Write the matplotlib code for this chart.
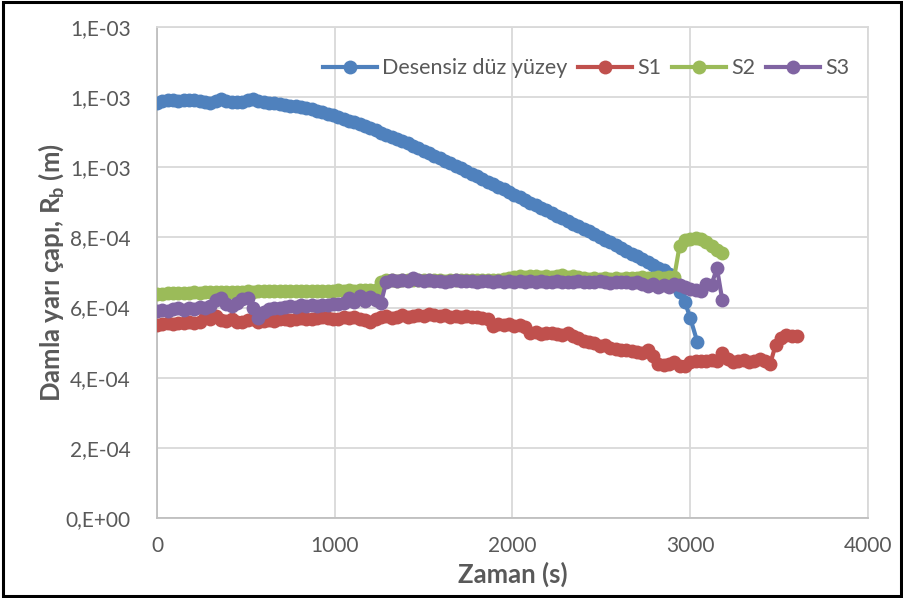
import numpy as np
import matplotlib
matplotlib.use("Agg")
import matplotlib.pyplot as plt
from matplotlib.patches import Rectangle
from matplotlib.ticker import FuncFormatter

plt.rcParams['font.family'] = ['Lato', 'DejaVu Sans']
plt.rcParams['mathtext.fontset'] = 'custom'
plt.rcParams['mathtext.bf'] = 'Lato:bold'
plt.rcParams['mathtext.rm'] = 'Lato:bold'
plt.rcParams['mathtext.default'] = 'bf'

# radius values in mm, sampled every 30 s
t_blue = np.append(np.arange(0, 3001, 30), 3040)
blue_mm = [
    1.183, 1.188, 1.193, 1.192, 1.190, 1.191, 1.192, 1.193, 1.190, 1.186,
    1.184, 1.188, 1.194, 1.190, 1.186, 1.185, 1.187, 1.193, 1.195, 1.190,
    1.186, 1.184, 1.182, 1.180, 1.178, 1.176, 1.174, 1.171, 1.168, 1.165,
    1.161, 1.157, 1.153, 1.148, 1.143, 1.138, 1.133, 1.128, 1.122, 1.117,
    1.111, 1.105, 1.099, 1.093, 1.087, 1.081, 1.074, 1.068, 1.061, 1.054,
    1.047, 1.040, 1.033, 1.026, 1.019, 1.011, 1.004, 0.997, 0.989, 0.982,
    0.974, 0.967, 0.959, 0.952, 0.944, 0.937, 0.929, 0.922, 0.914, 0.907,
    0.899, 0.892, 0.884, 0.877, 0.869, 0.862, 0.854, 0.847, 0.839, 0.832,
    0.824, 0.817, 0.809, 0.802, 0.794, 0.786, 0.778, 0.770, 0.762, 0.754,
    0.746, 0.738, 0.730, 0.722, 0.714, 0.706, 0.697, 0.680, 0.644, 0.616,
    0.570, 0.502,
]

t_s1 = np.arange(0, 3601, 30)
s1_mm = [
    0.550, 0.552, 0.555, 0.553, 0.556, 0.555, 0.558, 0.556, 0.560, 0.572,
    0.566, 0.575, 0.565, 0.562, 0.566, 0.558, 0.560, 0.564, 0.566, 0.560,
    0.562, 0.565, 0.563, 0.566, 0.568, 0.565, 0.567, 0.570, 0.568, 0.566,
    0.570, 0.572, 0.569, 0.566, 0.568, 0.572, 0.570, 0.573, 0.568, 0.565,
    0.560, 0.568, 0.572, 0.575, 0.570, 0.574, 0.578, 0.572, 0.575, 0.580,
    0.576, 0.582, 0.578, 0.575, 0.578, 0.574, 0.577, 0.573, 0.576, 0.572,
    0.574, 0.570, 0.566, 0.548, 0.552, 0.550, 0.553, 0.548, 0.550, 0.545,
    0.528, 0.530, 0.526, 0.528, 0.527, 0.525, 0.522, 0.528, 0.520, 0.512,
    0.505, 0.502, 0.498, 0.490, 0.492, 0.486, 0.482, 0.479, 0.478, 0.475,
    0.473, 0.470, 0.478, 0.462, 0.440, 0.436, 0.440, 0.446, 0.432, 0.434,
    0.444, 0.448, 0.449, 0.447, 0.450, 0.448, 0.470, 0.452, 0.446, 0.448,
    0.450, 0.445, 0.448, 0.452, 0.447, 0.440, 0.493, 0.514, 0.522, 0.520,
    0.518,
]

t_s2 = np.arange(0, 3181, 30)
s2_mm = [
    0.639, 0.640, 0.641, 0.641, 0.642, 0.641, 0.642, 0.643, 0.642, 0.643,
    0.644, 0.643, 0.644, 0.645, 0.644, 0.645, 0.645, 0.646, 0.645, 0.646,
    0.646, 0.647, 0.646, 0.647, 0.646, 0.647, 0.648, 0.647, 0.648, 0.647,
    0.648, 0.648, 0.647, 0.648, 0.649, 0.648, 0.649, 0.648, 0.649, 0.650,
    0.649, 0.650, 0.672, 0.678, 0.679, 0.677, 0.678, 0.680, 0.679, 0.678,
    0.679, 0.680, 0.678, 0.679, 0.677, 0.678, 0.679, 0.678, 0.680, 0.679,
    0.678, 0.679, 0.680, 0.678, 0.679, 0.681, 0.685, 0.688, 0.690, 0.687,
    0.689, 0.691, 0.688, 0.690, 0.686, 0.689, 0.692, 0.688, 0.690, 0.687,
    0.684, 0.682, 0.683, 0.681, 0.683, 0.682, 0.684, 0.682, 0.683, 0.685,
    0.684, 0.686, 0.683, 0.685, 0.687, 0.684, 0.686, 0.688, 0.776, 0.792,
    0.796, 0.797, 0.795, 0.786, 0.775, 0.763, 0.756,
]

t_s3 = np.arange(0, 3181, 30)
s3_mm = [
    0.590, 0.592, 0.589, 0.595, 0.598, 0.594, 0.600, 0.597, 0.602, 0.598,
    0.605, 0.622, 0.628, 0.610, 0.604, 0.612, 0.625, 0.628, 0.600, 0.570,
    0.588, 0.595, 0.600, 0.598, 0.602, 0.605, 0.603, 0.606, 0.604, 0.607,
    0.605, 0.608, 0.606, 0.609, 0.610, 0.612, 0.628, 0.615, 0.632, 0.620,
    0.630, 0.622, 0.613, 0.674, 0.680, 0.676, 0.678, 0.675, 0.684, 0.678,
    0.676, 0.678, 0.675, 0.677, 0.674, 0.676, 0.678, 0.675, 0.677, 0.676,
    0.674, 0.676, 0.675, 0.673, 0.675, 0.674, 0.676, 0.673, 0.675, 0.674,
    0.676, 0.673, 0.675, 0.674, 0.672, 0.675, 0.673, 0.674, 0.672, 0.675,
    0.673, 0.674, 0.672, 0.675, 0.673, 0.671, 0.674, 0.672, 0.673, 0.670,
    0.672, 0.668, 0.662, 0.668, 0.660, 0.665, 0.660, 0.668, 0.665, 0.658,
    0.654, 0.651, 0.648, 0.668, 0.665, 0.713, 0.622,
]

series = [
    ("Desensiz düz yüzey", t_blue, blue_mm, "#4F81BD"),
    ("S1", t_s1, s1_mm, "#C0504D"),
    ("S2", t_s2, s2_mm, "#9BBB59"),
    ("S3", t_s3, s3_mm, "#8064A2"),
]

fig = plt.figure(figsize=(9.04, 5.98), dpi=100)
ax = fig.add_axes([157 / 904, 80 / 598, 711 / 904, 491 / 598])

for name, t, r_mm, col in series:
    ax.plot(t, np.array(r_mm) * 1e-3, '-o', color=col, lw=3.0, ms=10,
            mec=col, mew=0, label=name, zorder=3)

ax.set_xlim(0, 4000)
ax.set_ylim(0, 1.4e-3)
ax.set_xticks(np.arange(0, 4001, 1000))
ax.set_yticks(np.arange(0, 1.41e-3, 2e-4))
ax.yaxis.set_major_formatter(FuncFormatter(lambda v, p: f"{v:.0E}".replace("E", ",E")))

ax.grid(color='#D9D9D9', lw=1.3, zorder=0)
ax.set_axisbelow(True)
for side in ['top', 'right']:
    ax.spines[side].set_color('#D9D9D9')
    ax.spines[side].set_linewidth(1.3)
for side in ['left', 'bottom']:
    ax.spines[side].set_color('#BFBFBF')
    ax.spines[side].set_linewidth(1.3)

ax.tick_params(axis='both', length=0, labelsize=15, colors='#595959')
ax.tick_params(axis='y', pad=19)
ax.tick_params(axis='x', pad=13)

ax.set_xlabel("Zaman (s)", fontsize=18.5, fontweight='bold', color='#595959')
ax.set_ylabel(r"Damla yarı çapı, R$_{b}$ (m)", fontsize=18.5, fontweight='bold', color='#595959')
ax.xaxis.set_label_coords(0.5, -0.088)
ax.yaxis.set_label_coords(-0.128, 0.5)

ax.legend(ncol=4, loc='center', bbox_to_anchor=(0.604, 0.916), frameon=False,
          fontsize=15.5, handlelength=2.5, handletextpad=0.25, columnspacing=0.5,
          labelcolor='#595959')

fig.patches.append(Rectangle((0.003, 0.004), 0.994, 0.992, transform=fig.transFigure,
                             fill=False, lw=2.2, ec='black'))

fig.savefig("out.png", dpi=100)
